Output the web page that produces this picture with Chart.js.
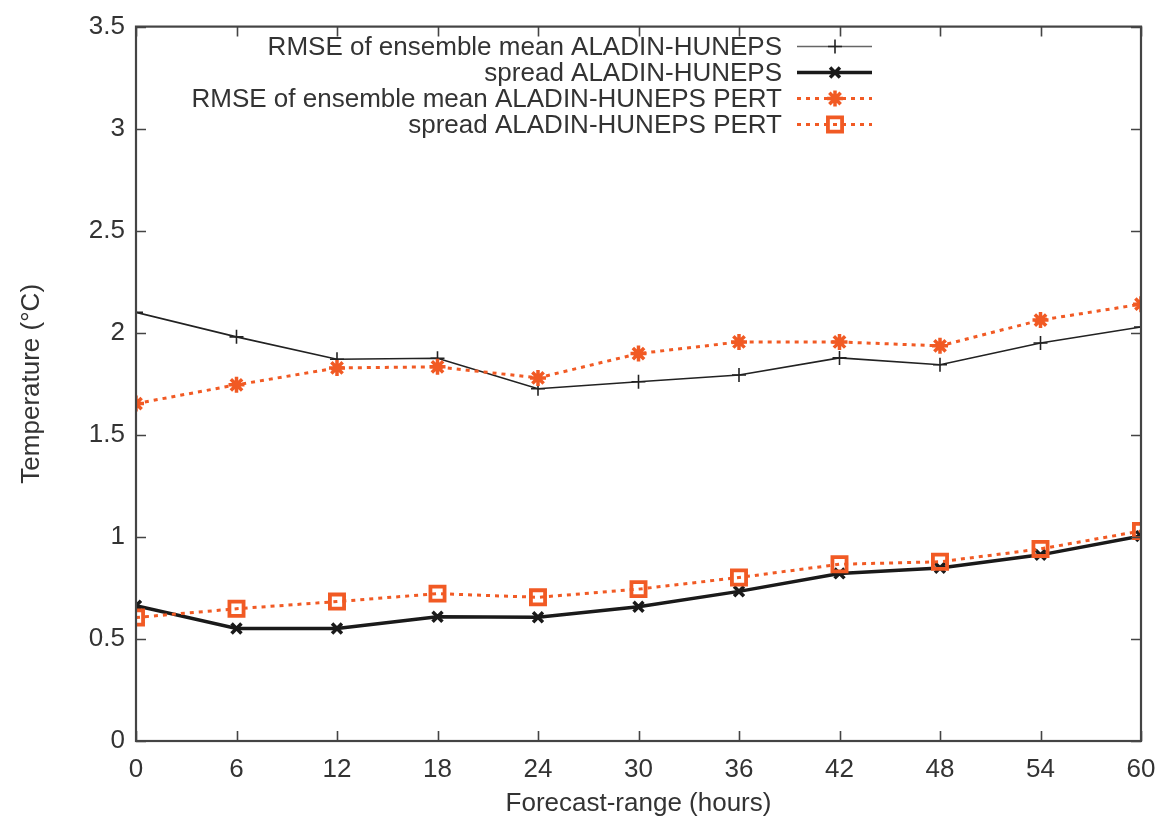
<!DOCTYPE html>
<html>
<head>
<meta charset="utf-8">
<script src="https://cdn.jsdelivr.net/npm/chart.js@4.4.1/dist/chart.umd.min.js"></script>
<style>
  html, body { margin: 0; padding: 0; background: #fff; }
  #wrap { width: 1160px; height: 819px; }
</style>
</head>
<body>
<div id="wrap"><canvas id="c" width="1160" height="819"></canvas></div>
<script>
// Forecast range in hours
const hours = [0, 6, 12, 18, 24, 30, 36, 42, 48, 54, 60];

// Temperature scores (°C)
const rmseHuneps     = [2.10, 1.98, 1.87, 1.875, 1.726, 1.76, 1.793, 1.877, 1.843, 1.95, 2.028];
const spreadHuneps   = [0.663, 0.551, 0.551, 0.609, 0.606, 0.658, 0.733, 0.821, 0.848, 0.912, 1.004];
const rmsePert       = [1.653, 1.745, 1.828, 1.833, 1.779, 1.898, 1.955, 1.955, 1.936, 2.062, 2.14];
const spreadPert     = [0.605, 0.648, 0.683, 0.722, 0.704, 0.744, 0.801, 0.866, 0.878, 0.941, 1.029];

const seriesLabels = [
  'RMSE of ensemble mean ALADIN-HUNEPS',
  'spread ALADIN-HUNEPS',
  'RMSE of ensemble mean ALADIN-HUNEPS PERT',
  'spread ALADIN-HUNEPS PERT'
];

const xTicks = hours;
const yTicks = [0, 0.5, 1, 1.5, 2, 2.5, 3, 3.5];

const FONT = '"Liberation Sans", Arial, sans-serif';
const FSIZE = 26;
const TEXT = '#333333';
const FRAME = '#444444';
const ORANGE = '#f15a24';

const toXY = (vals) => vals.map((v, i) => ({ x: hours[i], y: v }));

const datasets = [
  {
    label: seriesLabels[0], data: toXY(rmseHuneps),
    borderColor: '#222', borderWidth: 1.6, pointStyle: 'cross',
    pointRadius: 7, pointBorderWidth: 1.6, pointBorderColor: '#222',
    order: 4, legendLine: '#666'
  },
  {
    label: seriesLabels[1], data: toXY(spreadHuneps),
    borderColor: '#1a1a1a', borderWidth: 3.5, pointStyle: 'crossRot',
    pointRadius: 7, pointBorderWidth: 3.5, pointBorderColor: '#1a1a1a',
    order: 3, legendLine: '#1a1a1a'
  },
  {
    label: seriesLabels[2], data: toXY(rmsePert),
    borderColor: ORANGE, borderWidth: 3, borderDash: [4, 5], pointStyle: 'star',
    pointRadius: 8, pointBorderWidth: 3.5, pointBorderColor: ORANGE,
    order: 2, legendLine: ORANGE
  },
  {
    label: seriesLabels[3], data: toXY(spreadPert),
    borderColor: ORANGE, borderWidth: 3, borderDash: [4, 5], pointStyle: 'rect',
    pointRadius: 10, pointBorderWidth: 3.8, pointBorderColor: ORANGE,
    pointBackgroundColor: 'rgba(255,255,255,0)',
    order: 1, legendLine: ORANGE
  }
];
datasets.forEach(d => { d.fill = false; d.tension = 0; d.backgroundColor = 'rgba(0,0,0,0)'; d.borderCapStyle = 'butt'; });

// Frame with inward ticks on all four sides
const framePlugin = {
  id: 'frame',
  afterDatasetsDraw(chart) {
    const { ctx, chartArea: a, scales } = chart;
    const tl = 10;
    ctx.save();
    ctx.strokeStyle = FRAME;
    ctx.lineWidth = 1.6;
    ctx.beginPath();
    xTicks.forEach(v => {
      const x = Math.round(scales.x.getPixelForValue(v)) + 0.5;
      ctx.moveTo(x, a.bottom); ctx.lineTo(x, a.bottom - tl);
      ctx.moveTo(x, a.top); ctx.lineTo(x, a.top + tl);
    });
    yTicks.forEach(v => {
      const y = Math.round(scales.y.getPixelForValue(v)) + 0.5;
      ctx.moveTo(a.left, y); ctx.lineTo(a.left + tl, y);
      ctx.moveTo(a.right, y); ctx.lineTo(a.right - tl, y);
    });
    ctx.stroke();
    ctx.lineWidth = 2.2;
    ctx.strokeRect(a.left, a.top, a.right - a.left, a.bottom - a.top);
    ctx.restore();
  }
};

// Key in the upper area: right-aligned text followed by a line sample
const keyPlugin = {
  id: 'key',
  afterDraw(chart) {
    const { ctx } = chart;
    const textRight = 782, lineL = 797, lineR = 872, markX = 835;
    const y0 = 46.5, dy = 26;
    ctx.save();
    ctx.font = FSIZE + 'px ' + FONT;
    ctx.textAlign = 'right';
    ctx.textBaseline = 'middle';
    chart.data.datasets.forEach((d, i) => {
      const y = y0 + i * dy;
      ctx.fillStyle = TEXT;
      ctx.fillText(d.label, textRight, y + 1);
      ctx.save();
      ctx.strokeStyle = d.legendLine;
      ctx.lineWidth = d.borderWidth;
      ctx.setLineDash(d.borderDash || []);
      ctx.beginPath();
      ctx.moveTo(lineL, y); ctx.lineTo(lineR, y);
      ctx.stroke();
      ctx.restore();
      ctx.save();
      ctx.strokeStyle = d.pointBorderColor;
      ctx.fillStyle = d.pointBackgroundColor || 'rgba(0,0,0,0)';
      ctx.lineWidth = d.pointBorderWidth;
      ctx.setLineDash([]);
      Chart.helpers.drawPoint(ctx, {
        pointStyle: d.pointStyle, radius: d.pointRadius,
        borderWidth: d.pointBorderWidth, rotation: 0
      }, markX, y);
      ctx.restore();
    });
    ctx.restore();
  }
};

new Chart(document.getElementById('c'), {
  type: 'line',
  data: { datasets },
  plugins: [framePlugin, keyPlugin],
  options: {
    responsive: false,
    animation: false,
    events: [],
    layout: { padding: { top: 23, right: 19, left: 16, bottom: 0 } },
    plugins: { legend: { display: false }, tooltip: { enabled: false } },
    scales: {
      x: {
        type: 'linear', min: 0, max: 60,
        afterBuildTicks: (s) => { s.ticks = xTicks.map(v => ({ value: v })); },
        afterFit: (s) => { s.height = 78; s.paddingLeft = 0; s.paddingRight = 0; },
        grid: { display: false, drawTicks: false },
        border: { display: false },
        ticks: { color: TEXT, font: { family: FONT, size: FSIZE }, padding: 13, maxRotation: 0, autoSkip: false },
        title: { display: true, text: 'Forecast-range (hours)', color: TEXT,
                 font: { family: FONT, size: FSIZE }, padding: { top: 0, bottom: 0 } }
      },
      y: {
        type: 'linear', min: 0, max: 3.5,
        afterBuildTicks: (s) => { s.ticks = yTicks.map(v => ({ value: v })); },
        afterFit: (s) => { s.width = 120; },
        grid: { display: false, drawTicks: false },
        border: { display: false },
        ticks: { color: TEXT, font: { family: FONT, size: FSIZE }, padding: 11,
                 callback: (v) => String(v) },
        title: { display: true, text: 'Temperature (°C)', color: TEXT,
                 font: { family: FONT, size: FSIZE }, padding: { top: 0, bottom: 0 } }
      }
    }
  }
});
</script>
</body>
</html>
